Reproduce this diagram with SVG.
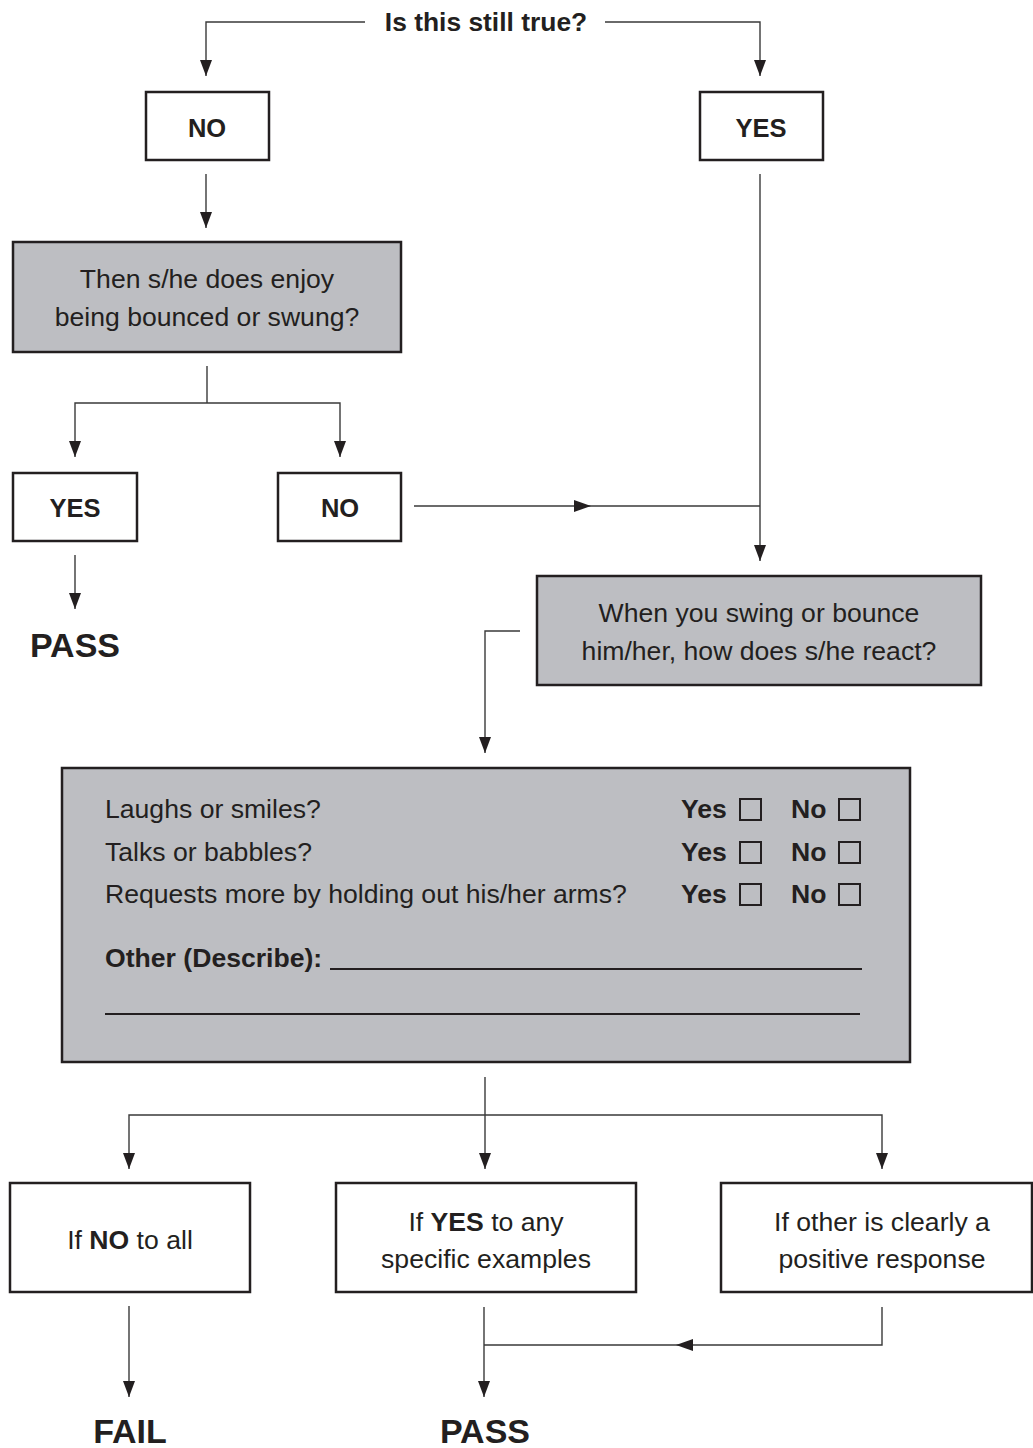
<svg xmlns="http://www.w3.org/2000/svg" width="1033" height="1448" viewBox="0 0 1033 1448">
  <style>
    text { font-family: "Liberation Sans", Arial, sans-serif; fill: #231f20; }
    .lbl { font-size: 25.5px; font-weight: bold; text-anchor: middle; }
    .ttl { font-size: 26.4px; font-weight: bold; text-anchor: middle; }
    .big { font-size: 34px; font-weight: bold; text-anchor: middle; }
    .body { font-size: 26.6px; text-anchor: middle; }
    .row { font-size: 26.6px; }
    .b { font-weight: bold; }
    .box { fill: #ffffff; stroke: #231f20; stroke-width: 2.5; }
    .gbox { fill: #bdbec2; stroke: #231f20; stroke-width: 2.5; }
    .chk { fill: none; stroke: #231f20; stroke-width: 2; }
    .wire { fill: none; stroke: #3a3a3a; stroke-width: 1.4; }
    .arr { fill: #231f20; }
  </style>
  <defs>
    <marker id="head" viewBox="0 0 16 12" refX="16" refY="6" markerWidth="16" markerHeight="12" markerUnits="userSpaceOnUse" orient="auto">
      <path d="M0,0 L16,6 L0,12 Z" class="arr"/>
    </marker>
  </defs>

  <!-- connectors -->
  <g id="connectors">
    <path class="wire" d="M365,22 H206 V76" marker-end="url(#head)"/>
    <path class="wire" d="M605,22 H760 V76" marker-end="url(#head)"/>
    <path class="wire" d="M206,174 V228" marker-end="url(#head)"/>
    <path class="wire" d="M207,366 V403"/>
    <path class="wire" d="M207,403 H75 V457" marker-end="url(#head)"/>
    <path class="wire" d="M207,403 H340 V457" marker-end="url(#head)"/>
    <path class="wire" d="M75,555 V609" marker-end="url(#head)"/>
    <path class="wire" d="M760,174 V561" marker-end="url(#head)"/>
    <path class="wire" d="M414,506 H760"/>
    <path class="arr" d="M574,500 L591,506 L574,512 Z"/>
    <path class="wire" d="M520,631 H485 V753" marker-end="url(#head)"/>
    <path class="wire" d="M485,1077 V1115"/>
    <path class="wire" d="M485,1115 V1169" marker-end="url(#head)"/>
    <path class="wire" d="M485,1115 H129 V1169" marker-end="url(#head)"/>
    <path class="wire" d="M485,1115 H882 V1169" marker-end="url(#head)"/>
    <path class="wire" d="M129,1306 V1397" marker-end="url(#head)"/>
    <path class="wire" d="M484,1307 V1397" marker-end="url(#head)"/>
    <path class="wire" d="M882,1307 V1345 H484"/>
    <path class="arr" d="M693,1339 L676,1345 L693,1351 Z"/>
  </g>

  <g id="question">
    <text class="ttl" x="486" y="31">Is this still true?</text>
  </g>

  <g id="no-top">
    <rect class="box" x="146" y="92" width="123" height="68"/>
    <text class="lbl" x="207" y="137">NO</text>
  </g>

  <g id="yes-top">
    <rect class="box" x="700" y="92" width="123" height="68"/>
    <text class="lbl" x="761" y="137">YES</text>
  </g>

  <g id="enjoy">
    <rect class="gbox" x="13" y="242" width="388" height="110"/>
    <text class="body" x="207" y="288">Then s/he does enjoy</text>
    <text class="body" x="207" y="326">being bounced or swung?</text>
  </g>

  <g id="yes-mid">
    <rect class="box" x="13" y="473" width="124" height="68"/>
    <text class="lbl" x="75" y="517">YES</text>
  </g>

  <g id="no-mid">
    <rect class="box" x="278" y="473" width="123" height="68"/>
    <text class="lbl" x="340" y="517">NO</text>
  </g>

  <g id="pass-left">
    <text class="big" x="75" y="657">PASS</text>
  </g>

  <g id="react">
    <rect class="gbox" x="537" y="576" width="444" height="109"/>
    <text class="body" x="759" y="622">When you swing or bounce</text>
    <text class="body" x="759" y="660">him/her, how does s/he react?</text>
  </g>

  <g id="checklist">
    <rect class="gbox" x="62" y="768" width="848" height="294"/>
    <text class="row" x="105" y="818">Laughs or smiles?</text>
    <text class="row" x="105" y="861">Talks or babbles?</text>
    <text class="row" x="105" y="903">Requests more by holding out his/her arms?</text>
    <g class="row b">
      <text x="681" y="818">Yes</text>
      <text x="791" y="818">No</text>
      <text x="681" y="861">Yes</text>
      <text x="791" y="861">No</text>
      <text x="681" y="903">Yes</text>
      <text x="791" y="903">No</text>
    </g>
    <rect class="chk" x="740" y="799" width="21" height="21"/>
    <rect class="chk" x="839" y="799" width="21" height="21"/>
    <rect class="chk" x="740" y="842" width="21" height="21"/>
    <rect class="chk" x="839" y="842" width="21" height="21"/>
    <rect class="chk" x="740" y="884" width="21" height="21"/>
    <rect class="chk" x="839" y="884" width="21" height="21"/>
    <text class="row b" x="105" y="967">Other (Describe):</text>
    <line x1="330" y1="969" x2="862" y2="969" stroke="#231f20" stroke-width="1.8"/>
    <line x1="105" y1="1014" x2="860" y2="1014" stroke="#231f20" stroke-width="1.8"/>
  </g>

  <g id="no-all">
    <rect class="box" x="10" y="1183" width="240" height="109"/>
    <text class="body" x="130" y="1249">If <tspan class="b">NO</tspan> to all</text>
  </g>

  <g id="yes-any">
    <rect class="box" x="336" y="1183" width="300" height="109"/>
    <text class="body" x="486" y="1231">If <tspan class="b">YES</tspan> to any</text>
    <text class="body" x="486" y="1268">specific examples</text>
  </g>

  <g id="other-positive">
    <rect class="box" x="721" y="1183" width="311" height="109"/>
    <text class="body" x="882" y="1231">If other is clearly a</text>
    <text class="body" x="882" y="1268">positive response</text>
  </g>

  <g id="fail">
    <text class="big" x="130" y="1443">FAIL</text>
  </g>

  <g id="pass-bottom">
    <text class="big" x="485" y="1443">PASS</text>
  </g>
</svg>
